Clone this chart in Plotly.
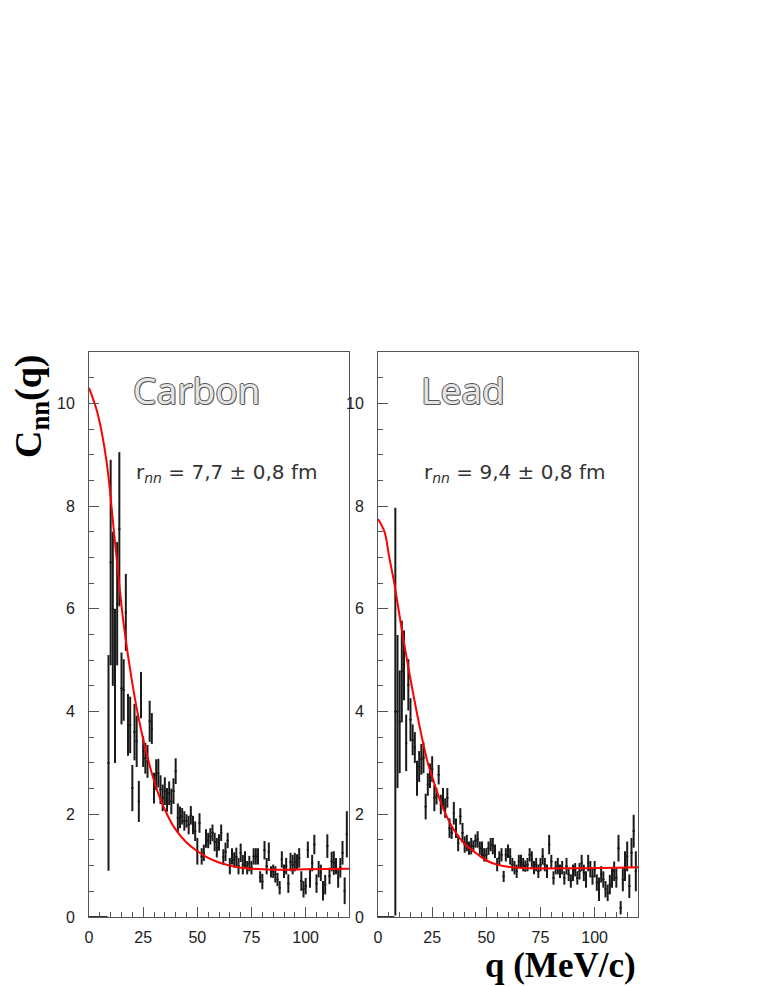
import plotly.graph_objects as go
from plotly.subplots import make_subplots

# ---------------------------------------------------------------
# Data: nn correlation function, 1 MeV/c bins (bin centres in MeV/c)
# ---------------------------------------------------------------
q_carbon = list(range(0, 120))
c_carbon = [0, 0, 0, 0, 0, 0, 0, 0, 0,
            3.0, 6.9, 6.0, 4.5, 6.1, 7.55, 4.45, 4.42, 5.93, 3.74,
            3.74, 2.51, 3.6, 3.42, 2.25, 4.32, 3.22, 3.09, 3.03, 3.81,
            3.67, 2.51, 2.77, 2.8, 2.48, 2.32, 2.45, 2.28, 2.41, 2.25,
            2.45, 2.84,
            1.93, 1.94, 1.96, 1.87, 1.87, 1.79, 1.98, 1.79, 1.67, 1.28,
            1.83, 1.18, 1.25, 1.53, 1.49, 1.57, 1.64, 1.46, 1.35, 1.45,
            1.64, 1.17, 1.27, 1.49, 0.99, 1.18, 1.11, 1.17, 0.99, 1.25,
            1.02, 1.12, 0.96, 1.04, 0.96, 1.18, 1.18, 1.18, 0.78, 0.69,
            1.30, 0.99, 1.27, 0.88, 0.89, 0.83, 0.73, 0.57, 1.12, 0.89,
            0.99, 0.65, 1.07, 1.02, 1.07, 1.07, 1.15, 0.70, 0.54, 0.60,
            1.31, 0.76, 1.05, 1.41, 0.65, 0.93, 0.86, 0.51, 0.63, 1.38,
            0.80, 1.08, 1.05, 0.99, 0.76, 0.96, 1.25, 0.51, 1.61]
e_carbon = [0, 0, 0, 0, 0, 0, 0, 0, 0,
            2.1, 2.0, 1.5, 1.5, 1.2, 1.5, 0.7, 0.6, 0.75, 0.6,
            0.55, 0.45, 0.55, 0.5, 0.4, 0.45, 0.3, 0.3, 0.32, 0.4,
            0.3, 0.3, 0.3, 0.28, 0.28, 0.26, 0.27, 0.23, 0.23, 0.25,
            0.25, 0.25,
            0.28, 0.21, 0.16, 0.19, 0.13, 0.18, 0.18, 0.18, 0.19, 0.26,
            0.19, 0.16, 0.16, 0.18, 0.15, 0.16, 0.16, 0.18, 0.19, 0.16,
            0.16, 0.15, 0.18, 0.15, 0.16, 0.16, 0.15, 0.18, 0.16, 0.18,
            0.19, 0.16, 0.13, 0.15, 0.13, 0.16, 0.16, 0.16, 0.11, 0.15,
            0.18, 0.16, 0.18, 0.11, 0.13, 0.16, 0.13, 0.13, 0.16, 0.13,
            0.16, 0.18, 0.18, 0.19, 0.18, 0.15, 0.19, 0.19, 0.16, 0.16,
            0.16, 0.19, 0.16, 0.19, 0.18, 0.16, 0.16, 0.19, 0.19, 0.23,
            0.16, 0.19, 0.23, 0.16, 0.19, 0.19, 0.23, 0.26, 0.45]

q_lead = list(range(0, 120))
c_lead = [0, 0, 0, 0, 0, 0, 0, 0,
          4.0, 4.0, 3.8, 4.78, 4.9, 3.39, 4.52, 3.84, 3.45, 3.3,
          2.7, 2.93, 3.07, 3.1, 2.15, 2.58, 2.75, 2.88,
          2.32, 2.35, 2.77, 2.19, 2.32, 2.12, 2.32, 1.73, 1.64, 2.02,
          1.73, 1.44, 1.96, 1.64, 1.41, 1.44, 1.34, 1.38, 1.38, 1.48,
          1.51, 1.34, 1.31, 1.21, 1.21, 1.34, 1.41, 1.38, 1.28, 1.02,
          1.15, 1.21, 0.79, 1.21, 1.28, 1.18, 1.02, 0.96, 0.89, 1.08,
          1.08, 1.02, 0.99, 1.02, 1.21, 1.12, 0.96, 1.02, 0.89, 1.02, 1.18,
          1.02, 0.89, 1.41, 1.08, 0.76, 0.96, 0.99, 0.89, 0.96, 0.76,
          0.99, 0.83, 0.70, 0.86, 0.92, 0.76, 0.89, 1.05, 0.86, 0.73, 1.05,
          0.93, 0.79, 0.93, 0.67, 0.54, 0.83, 0.73, 0.54, 0.47, 0.63,
          0.76, 0.89, 0.76, 1.34, 0.18, 0.73, 0.99, 1.18, 0.60, 1.25,
          1.67, 0.89]
e_lead = [0, 0, 0, 0, 0, 0, 0, 0,
          3.97, 1.49, 1.0, 0.99, 0.68, 0.55, 0.5, 0.42, 0.3, 0.3,
          0.34, 0.3, 0.3, 0.3, 0.25, 0.22, 0.24, 0.25,
          0.26, 0.16, 0.19, 0.19, 0.19, 0.19, 0.19, 0.19, 0.12, 0.22,
          0.19, 0.16, 0.16, 0.19, 0.16, 0.16, 0.13, 0.16, 0.11, 0.13,
          0.16, 0.13, 0.16, 0.13, 0.13, 0.13, 0.13, 0.16, 0.13, 0.13,
          0.13, 0.13, 0.11, 0.13, 0.13, 0.16, 0.13, 0.13, 0.13, 0.13,
          0.13, 0.13, 0.11, 0.13, 0.13, 0.16, 0.13, 0.13, 0.13, 0.13, 0.16,
          0.13, 0.13, 0.19, 0.13, 0.13, 0.13, 0.16, 0.13, 0.13, 0.13,
          0.16, 0.13, 0.13, 0.16, 0.13, 0.13, 0.16, 0.16, 0.16, 0.16, 0.16,
          0.16, 0.16, 0.16, 0.16, 0.23, 0.16, 0.16, 0.16, 0.16, 0.19,
          0.19, 0.19, 0.19, 0.26, 0.13, 0.23, 0.29, 0.29, 0.23, 0.29,
          0.32, 0.39]

# fitted curves
fit_q_carbon = [0, 4, 8, 12, 16, 20, 24, 28, 32, 36, 40, 45, 50, 55, 60, 65, 70, 80, 90, 100, 120]
fit_c_carbon = [10.3, 9.8, 8.9, 7.3, 5.7, 4.55, 3.65, 2.95, 2.4, 2.0, 1.7, 1.45, 1.28, 1.15, 1.06,
                1.0, 0.96, 0.93, 0.92, 0.93, 0.94]
fit_q_lead = [0, 3, 5, 7.5, 10, 13, 16, 20, 23, 26, 30, 35, 40, 45, 50, 55, 60, 70, 90, 120]
fit_c_lead = [7.75, 7.5, 7.05, 6.5, 5.85, 5.1, 4.4, 3.55, 3.0, 2.6, 2.12, 1.7, 1.42, 1.25, 1.1,
              1.02, 0.98, 0.95, 0.95, 0.97]

panels = ["Carbon", "Lead"]
radii = ["7,7 ± 0,8", "9,4 ± 0,8"]
x_ticks = [0, 25, 50, 75, 100]
y_ticks = [0, 2, 4, 6, 8, 10]

# ---------------------------------------------------------------
W, H = 763, 987
OFF = 7  # the page body adds a small margin round the plot div


def px(x):
    """window x pixel -> paper fraction"""
    return (x - OFF) / W


def py(y):
    """window y pixel (from top) -> paper fraction"""
    return 1 - (y - OFF) / H


fig = make_subplots(rows=1, cols=2)

series = [(q_carbon, c_carbon, e_carbon, fit_q_carbon, fit_c_carbon),
          (q_lead, c_lead, e_lead, fit_q_lead, fit_c_lead)]

for i, (q, c, e, fq, fc) in enumerate(series):
    fig.add_trace(go.Scatter(
        x=q, y=c, mode="markers",
        marker=dict(size=2, color="#1a1a1a"),
        error_y=dict(type="data", array=e, visible=True, width=0, thickness=2, color="#1a1a1a"),
        error_x=dict(type="constant", value=0.5, visible=True, width=0, thickness=1.5, color="#1a1a1a"),
        showlegend=False,
    ), row=1, col=i + 1)
    fig.add_trace(go.Scatter(
        x=fq, y=fc, mode="lines", line=dict(color="#ff0000", width=2, shape="spline"),
        showlegend=False,
    ), row=1, col=i + 1)

# panel positions in window pixels
x_dom = [(88, 348), (377, 637)]
y_dom = (351, 916)

tick_font = dict(family="Liberation Sans, Arial", size=16, color="#222")
for i in range(2):
    x0, x1 = x_dom[i]
    ax = dict(
        domain=[px(x0), px(x1)], range=[0, 120], automargin=False,
        tickmode="array", tickvals=x_ticks,
        ticks="inside", ticklen=10, tickwidth=1, tickcolor="#555",
        minor=dict(dtick=5, tick0=0, ticks="inside", ticklen=5, tickcolor="#555", showgrid=False),
        showline=True, linecolor="#555", linewidth=1, mirror=True,
        showgrid=False, zeroline=False,
        tickfont=tick_font, ticklabelstandoff=6,
    )
    ay = dict(
        domain=[py(y_dom[1]), py(y_dom[0])], range=[0, 11], automargin=False,
        tickmode="array", tickvals=y_ticks,
        ticks="inside", ticklen=10, tickwidth=1, tickcolor="#555",
        minor=dict(dtick=0.5, tick0=0, ticks="inside", ticklen=5, tickcolor="#555", showgrid=False),
        showline=True, linecolor="#555", linewidth=1, mirror=True,
        showgrid=False, zeroline=False,
        tickfont=tick_font, ticklabelstandoff=10,
    )
    fig.update_xaxes(ax, row=1, col=i + 1)
    fig.update_yaxes(ay, row=1, col=i + 1)

# panel labels (outlined grey lettering as in the original)
outline = "-1px 0 0 #555, 1px 0 0 #555, 0 -1px 0 #555, 0 1px 0 #555, 1px 1px 0 #777"
label_x = [195, 462]
radius_x = [225, 513]
for i in range(2):
    fig.add_annotation(
        text=panels[i], x=px(label_x[i]), y=py(389), xref="paper", yref="paper",
        showarrow=False, xanchor="center", yanchor="middle",
        font=dict(family="Noto Sans", size=37, color="#e4e4e4", shadow=outline),
    )
    fig.add_annotation(
        text="r<sub><i>nn</i></sub> = " + radii[i] + " fm",
        x=px(radius_x[i]), y=py(472), xref="paper", yref="paper",
        showarrow=False, xanchor="center", yanchor="middle",
        font=dict(family="DejaVu Sans", size=20, color="#333"),
    )

# axis titles
fig.add_annotation(
    text="<b>C<sub>nn</sub>(q)</b>", x=px(30), y=py(405), xref="paper", yref="paper",
    showarrow=False, textangle=-90, xanchor="center", yanchor="middle",
    font=dict(family="Liberation Serif, Times New Roman", size=38, color="#000"),
)
fig.add_annotation(
    text="<b>q (MeV/c)</b>", x=px(637), y=py(964), xref="paper", yref="paper",
    showarrow=False, xanchor="right", yanchor="middle",
    font=dict(family="Liberation Serif, Times New Roman", size=35, color="#000"),
)

fig.update_layout(
    width=W, height=H,
    margin=dict(l=0, r=0, t=0, b=0),
    paper_bgcolor="white", plot_bgcolor="white",
    showlegend=False,
)

fig.write_html("out.html")
